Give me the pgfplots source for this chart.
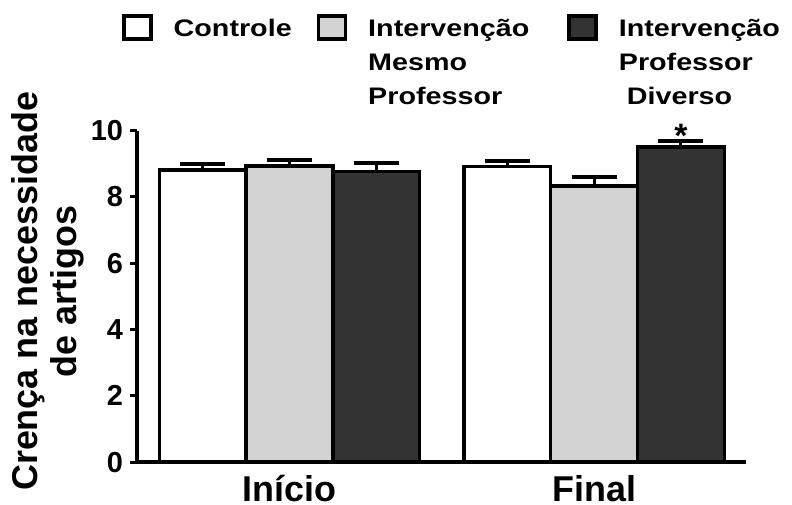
\documentclass[border=0pt]{standalone}
\usepackage{pgfplots}
\pgfplotsset{compat=1.18}
\usepackage{fontspec}
\setmainfont{Liberation Sans}
\newfontfamily\legfont{Liberation Sans Bold}[FakeStretch=1.2]
\definecolor{lgray}{HTML}{D3D3D3}
\definecolor{dgray}{HTML}{333333}
\pgfplotsset{myerr/.style={error bars/.cd, y dir=plus, y explicit,
  error bar style={line width=3bp, black},
  error mark options={rotate=90, line width=4.5bp, black, mark size=22.5bp}}}
\begin{document}
\begin{tikzpicture}
\begin{axis}[
  scale only axis, width=609bp, height=331.5bp,
  xmin=0.5, xmax=2.5, ymin=0, ymax=10,
  clip=false,
  axis x line*=bottom, axis y line*=left,
  axis line style={line width=3.5bp, -},
  ytick style={black, line width=3bp},
  xtick style={draw=none},
  tick align=outside,
  major tick length=7bp,
  xtick={1,2}, xticklabels={Início,Final},
  ytick={0,2,4,6,8,10},
  /pgf/number format/assume math mode=true,
  yticklabel style={font=\bfseries\fontsize{29}{29}\selectfont, inner sep=2bp, xshift=-5bp},
  xticklabel style={font=\bfseries\fontsize{36}{36}\selectfont, inner sep=2bp, yshift=-4bp},
  ylabel={Crença na necessidade\\de artigos},
  ylabel style={align=center, font=\bfseries\fontsize{36}{38.5}\selectfont,
    inner xsep=0pt, inner ysep=12bp,
    at={(axis description cs:-0.0673,0.515)}, anchor=south, rotate=0},
  ybar, bar width=0.285,
  legend columns=3,
  legend style={draw=none, fill=none, inner xsep=12bp, inner ysep=13bp, outer sep=0pt,
    at={(axis description cs:-0.0443,1.3937)}, anchor=north west,
    cells={anchor=base west},
    nodes={font=\legfont\fontsize{24}{34}\selectfont, inner sep=0pt},
    /tikz/every odd column/.append style={column sep=21bp},
    /tikz/every even column/.append style={column sep=25bp}},
  legend image code/.code={\draw[#1, line width=3.5bp] (1.75bp,-2.5bp) rectangle (28.75bp,20.5bp);},
]
\addplot[fill=white, draw=black, line width=3.5bp, bar shift=-0.285, myerr]
  coordinates {(1,8.81) +- (0,0.18) (2,8.91) +- (0,0.17)};
\addlegendentry{Controle}
\addplot[fill=lgray, draw=black, line width=3.5bp, bar shift=0, myerr]
  coordinates {(1,8.93) +- (0,0.18) (2,8.33) +- (0,0.27)};
\addlegendentry{\begin{tabular}[t]{@{}l@{}}Intervenção\hspace*{13bp}\\Mesmo\\Professor\end{tabular}}
\addplot[fill=dgray, draw=black, line width=3.5bp, bar shift=0.285, myerr]
  coordinates {(1,8.76) +- (0,0.26) (2,9.51) +- (0,0.18)};
\addlegendentry{\begin{tabular}[t]{@{}l@{}}Intervenção\\Professor\\\hspace*{8bp}Diverso\end{tabular}}
\node[anchor=base, font=\bfseries\fontsize{34}{34}\selectfont, inner sep=0pt] at (axis cs:2.285,9.5) {*};
\end{axis}
\end{tikzpicture}
\end{document}
